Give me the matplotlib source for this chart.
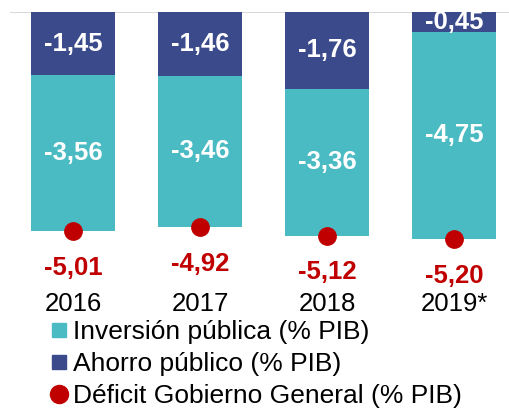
import matplotlib.pyplot as plt
from matplotlib.lines import Line2D

plt.rcParams['font.family'] = ['Liberation Sans', 'DejaVu Sans']

# Datos (% PIB)
anios = ['2016', '2017', '2018', '2019*']
ahorro = [-1.45, -1.46, -1.76, -0.45]
inversion = [-3.56, -3.46, -3.36, -4.75]
deficit = [-5.01, -4.92, -5.12, -5.20]

c_inv = '#4BBBC3'
c_aho = '#3B4A8B'
c_def = '#C00000'

def fmt(v):
    return f'{v:.2f}'.replace('.', ',')

fig = plt.figure(figsize=(5.1, 4.12), dpi=100)
ax = fig.add_axes([10 / 510, 0, 500 / 510, 1 - 12 / 412])
ax.set_xlim(-0.496, 3.441)
ax.set_ylim(-400 / 43.7, 0)
ax.axis('off')

x = range(len(anios))
ax.axhline(0, color='#D9D9D9', lw=1.5, zorder=0)
ax.bar(x, ahorro, width=0.66, color=c_aho, zorder=2)
ax.bar(x, inversion, width=0.66, bottom=ahorro, color=c_inv, zorder=2)
ax.plot(x, deficit, 'o', color=c_def, markersize=12.5, zorder=3)

for i in x:
    ax.text(i, ahorro[i] / 2, fmt(ahorro[i]), ha='center', va='center',
            color='white', fontsize=18.5, fontweight='bold', zorder=4)
    ax.text(i, ahorro[i] + inversion[i] / 2, fmt(inversion[i]), ha='center', va='center',
            color='white', fontsize=18.5, fontweight='bold', zorder=4)
    ax.text(i, deficit[i] - 0.84, fmt(deficit[i]), ha='center', va='center',
            color=c_def, fontsize=18.5, fontweight='bold')
    ax.text(i, -6.68, anios[i], ha='center', va='center', color='black', fontsize=18.5)

handles = [
    Line2D([], [], marker='s', linestyle='none', color=c_inv, markersize=10),
    Line2D([], [], marker='s', linestyle='none', color=c_aho, markersize=10),
    Line2D([], [], marker='o', linestyle='none', color=c_def, markersize=13),
]
labels = ['Inversión pública (% PIB)', 'Ahorro público (% PIB)',
          'Déficit Gobierno General (% PIB)']
fig.legend(handles, labels, loc='upper left', bbox_to_anchor=(51 / 510, 1 - 320 / 412),
           frameon=False, fontsize=19, handlelength=0.6, handletextpad=0.25,
           labelspacing=0.3, borderpad=0, borderaxespad=0)

fig.savefig('out.png', dpi=100)
